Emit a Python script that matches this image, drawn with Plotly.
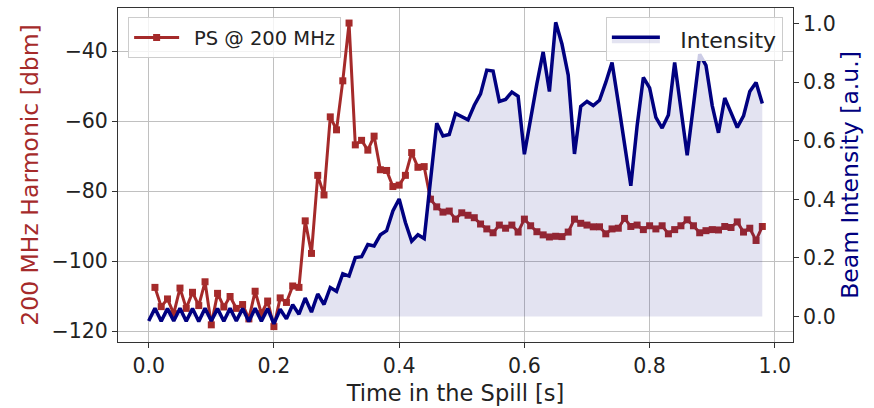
import plotly.graph_objects as go

# Time axis (s)
t_ps = [round(0.01 * i, 2) for i in range(1, 99)]      # 0.01 .. 0.98
t_int = [round(0.01 * i, 2) for i in range(0, 99)]     # 0.00 .. 0.98

# PS 200 MHz harmonic level (dBm)
ps_200mhz = [
    -107.5, -113.0, -110.8, -115.0, -107.7, -113.5, -108.9, -112.7, -105.9, -118.2,
    -109.2, -113.1, -110.1, -113.5, -112.4, -116.5, -108.6, -115.0, -111.4, -118.7,
    -110.5, -111.8, -107.1, -107.5, -88.5, -97.8, -75.5, -81.1, -58.8, -62.5,
    -48.5, -32.0, -66.8, -65.5, -68.3, -64.3, -73.9, -74.1, -78.7, -78.3,
    -75.5, -69.0, -73.2, -73.0, -82.3, -84.5, -86.0, -85.7, -88.0, -86.2,
    -86.9, -87.6, -89.4, -90.8, -91.9, -89.7, -90.6, -89.7, -91.7, -88.0,
    -89.9, -91.6, -92.5, -93.1, -92.9, -93.0, -91.7, -88.0, -89.2, -89.7,
    -90.2, -90.2, -92.2, -90.8, -90.6, -87.8, -90.1, -89.7, -91.0, -89.9,
    -90.8, -89.9, -92.2, -91.0, -89.9, -88.2, -89.9, -91.9, -91.3, -91.0,
    -91.1, -90.1, -90.4, -88.8, -91.7, -90.6, -94.1, -90.1,
]

# Beam intensity (a.u.)
intensity = [
    -0.015, 0.028, -0.016, 0.027, -0.015, 0.028, -0.016, 0.027, -0.017, 0.028,
    -0.015, 0.027, -0.016, 0.028, -0.015, 0.027, -0.017, 0.028, -0.016, 0.027,
    -0.025, 0.025, -0.008, 0.040, 0.008, 0.063, 0.015, 0.077, 0.041, 0.099,
    0.086, 0.146, 0.138, 0.201, 0.204, 0.246, 0.241, 0.279, 0.293, 0.360,
    0.401, 0.321, 0.257, 0.279, 0.266, 0.460, 0.660, 0.616, 0.621, 0.693,
    0.682, 0.671, 0.721, 0.760, 0.841, 0.838, 0.734, 0.741, 0.766, 0.752,
    0.554, 0.680, 0.795, 0.903, 0.768, 1.004, 0.930, 0.824, 0.555, 0.717,
    0.734, 0.720, 0.738, 0.799, 0.867, 0.730, 0.590, 0.446, 0.650, 0.816,
    0.780, 0.680, 0.643, 0.688, 0.867, 0.710, 0.550, 0.720, 0.895, 0.857,
    0.720, 0.627, 0.746, 0.696, 0.645, 0.685, 0.768, 0.799, 0.727,
]

left_ticks = [-120, -100, -80, -60, -40]
left_ticktext = ["\u2212120", "\u2212100", "\u221280", "\u221260", "\u221240"]
x_ticks = [0.0, 0.2, 0.4, 0.6, 0.8, 1.0]
right_ticks = [0.0, 0.2, 0.4, 0.6, 0.8, 1.0]

RED = "#a52a2a"
NAVY = "#000080"
FONT = "DejaVu Sans"
GAP = "\u2002"  # spacing between legend symbol and label

fig = go.Figure()

fig.add_trace(go.Scatter(
    x=t_ps, y=ps_200mhz, name=GAP + "PS @ 200 MHz", mode="lines+markers",
    line=dict(color=RED, width=3),
    marker=dict(symbol="square", size=7, color=RED),
    xaxis="x", yaxis="y", legend="legend",
))

fig.add_trace(go.Scatter(
    x=t_int, y=intensity, name=GAP + "\u2009Intensity", mode="lines",
    line=dict(color=NAVY, width=3.5),
    fill="tozeroy", fillcolor="rgba(0,0,128,0.11)",
    xaxis="x", yaxis="y2", legend="legend2",
))

axis_line = dict(showline=True, linecolor="#333333", linewidth=1,
                 ticks="outside", ticklen=5, tickwidth=1, tickcolor="#333333")

fig.update_layout(
    width=874, height=408,
    margin=dict(l=118, r=81, t=7, b=59),
    paper_bgcolor="white", plot_bgcolor="white",
    font=dict(family=FONT, size=20.5, color="#222222"),
    xaxis=dict(
        range=[-0.049, 1.029], tickvals=x_ticks, tickformat=".1f",
        showgrid=True, gridcolor="#c0c0c0", gridwidth=1, zeroline=False,
        title=dict(text="Time in the Spill [s]", font=dict(size=22.5), standoff=8),
        mirror=True, **axis_line,
    ),
    yaxis=dict(
        range=[-123.1, -27.7], tickvals=left_ticks, ticktext=left_ticktext,
        showgrid=True, gridcolor="#c0c0c0", gridwidth=1, zeroline=False,
        title=dict(text="200 MHz Harmonic [dbm]", font=dict(size=23.5, color=RED), standoff=6),
        mirror=False, **axis_line,
    ),
    yaxis2=dict(
        range=[-0.087, 1.053], tickvals=right_ticks, tickformat=".1f",
        overlaying="y", side="right", showgrid=False, zeroline=False,
        title=dict(text="Beam Intensity [a.u.]", font=dict(size=23.5, color=NAVY), standoff=6),
        **axis_line,
    ),
    legend=dict(
        x=0.015, y=0.972, xanchor="left", yanchor="top",
        bgcolor="rgba(255,255,255,0.8)", bordercolor="#cccccc", borderwidth=1,
        font=dict(size=19.5), itemwidth=45,
    ),
    legend2=dict(
        x=0.985, y=0.972, xanchor="right", yanchor="top",
        bgcolor="rgba(255,255,255,0.8)", bordercolor="#cccccc", borderwidth=1,
        font=dict(size=22), itemwidth=48,
    ),
    showlegend=True,
)

fig.write_html("out.html")
